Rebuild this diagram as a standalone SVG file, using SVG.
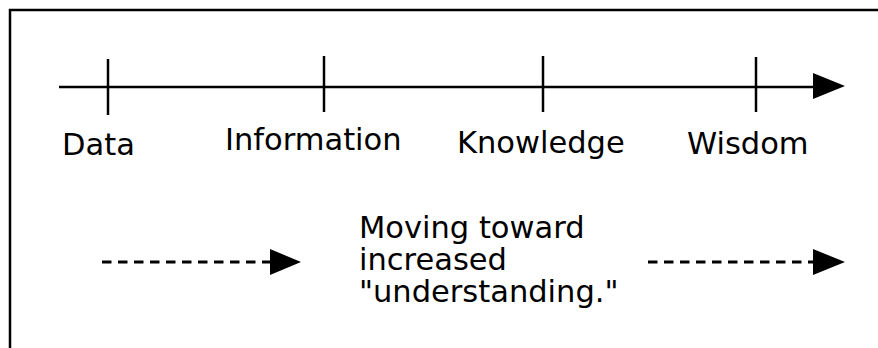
<svg xmlns="http://www.w3.org/2000/svg" width="878" height="348" viewBox="0 0 878 348">
<style>
.t{font-family:"DejaVu Sans",Verdana,sans-serif;font-size:30.5px;fill:#000}
.ln{stroke:#000;stroke-width:2.5;fill:none}
.ds{stroke:#000;stroke-width:3;fill:none;stroke-dasharray:9.5 6.5}
.ah{fill:#000}
</style>
<rect width="878" height="348" fill="#fff"/>
<g id="frame">
<path class="ln" d="M10,348 V10 H878" stroke-width="3"/>
</g>
<g id="connectors">
<line class="ln" x1="59" y1="87" x2="815" y2="87"/>
<polygon class="ah" points="813,73 845,86 813,99"/>
<line class="ds" x1="102" y1="262" x2="272" y2="262"/>
<polygon class="ah" points="270,249 301,262 270,275"/>
<line class="ds" x1="648" y1="262" x2="815" y2="262"/>
<polygon class="ah" points="813,249 845,262 813,275"/>
</g>
<g id="data">
<line class="ln" x1="108" y1="59" x2="108" y2="115"/>
<text class="t" x="62" y="155">Data</text>
</g>
<g id="information">
<line class="ln" x1="324" y1="56" x2="324" y2="112"/>
<text class="t" x="225" y="150">Information</text>
</g>
<g id="knowledge">
<line class="ln" x1="543" y1="56" x2="543" y2="112"/>
<text class="t" x="457" y="153">Knowledge</text>
</g>
<g id="wisdom">
<line class="ln" x1="756" y1="57" x2="756" y2="112"/>
<text class="t" x="687" y="154">Wisdom</text>
</g>
<g id="caption">
<text class="t" x="359" y="238">Moving toward</text>
<text class="t" x="359" y="270">increased</text>
<text class="t" x="359" y="302">"understanding."</text>
</g>
</svg>
